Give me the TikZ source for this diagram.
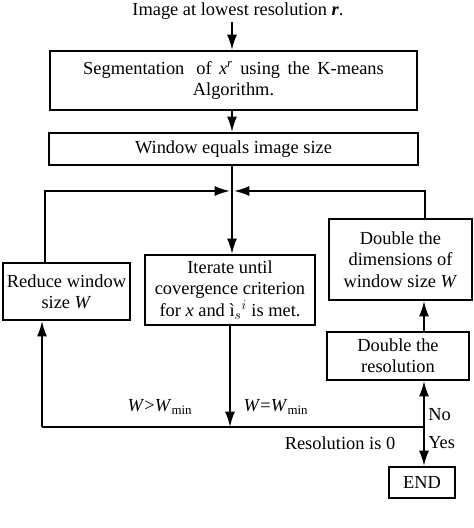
\documentclass[tikz,border=0pt]{standalone}
\usepackage{fontspec}
\setmainfont{Liberation Serif}
\usetikzlibrary{arrows.meta}
\begin{document}
\begin{tikzpicture}[x=0.75pt,y=-0.75pt,
  every node/.style={font=\fontsize{13.8}{16}\selectfont},
  box/.style={draw,line width=1.6pt,inner sep=0pt,align=center},
  lbl/.style={inner sep=0pt},
  arr/.style={line width=1.3pt,-{Latex[length=11.5pt,width=7.5pt]}},
  ln/.style={line width=1.3pt}]
\useasboundingbox (0,0) rectangle (474,528);
\node[lbl] (title) at (238,11) {Image at lowest resolution \textbf{\textit{r}}.};
\node[box,minimum width=275.25pt,minimum height=44.25pt] (seg) at (233.5,80.5)
  {{\spaceskip=0.4em Segmentation\hspace{0.25em} of \textit{x}\textsuperscript{\textit{r}} using the K-means}\\Algorithm.};
\node[box,minimum width=276.75pt,minimum height=24pt] (win) at (233.5,149) {Window equals image size};
\node[box,minimum width=95.25pt,minimum height=42.75pt] (red) at (66.5,291.5) {Reduce window\\size \textit{W}};
\node[box,minimum width=127.5pt,minimum height=52.5pt] (iter) at (230,290)
  {Iterate until\\covergence criterion\\for \textit{x} and ì$_{s}{}^{i}$ is met.};
\node[box,minimum width=107.25pt,minimum height=60.75pt] (ddim) at (400.5,259.5) {Double the\\dimensions of\\window size \textit{W}};
\node[box,minimum width=106.5pt,minimum height=36pt] (dres) at (398,356) {Double the\\resolution};
\node[box,minimum width=49.5pt,minimum height=23.25pt] (end) at (422,482.5) {END};
% labels
\node[lbl] (lgt) at (160,407) {\textit{W}>\textit{W}\textsubscript{min}};
\node[lbl] (leq) at (276,407) {\textit{W}=\textit{W}\textsubscript{min}};
\node[lbl,anchor=west] (lno) at (428,415) {No};
\node[lbl,anchor=west] (lyes) at (428,443) {Yes};
\node[lbl] (lres) at (340,443) {Resolution is 0};
% coordinates
\coordinate (ta) at (232,22);
\coordinate (junc) at (232,191);
\coordinate (jl) at (45,191);
\coordinate (jl2) at (230,191);
\coordinate (jr) at (425,191);
\coordinate (jr2) at (234,191);
\coordinate (dec) at (424,427);
\coordinate (bl) at (42,427);
% connectors
\draw[arr] (ta) -- (ta |- seg.north);
\draw[arr] (seg.south -| ta) -- (ta |- win.north);
\draw[arr] (win.south -| junc) -- (junc |- iter.north);
\draw[arr] (red.north -| jl) -- (jl) -- (jl2);
\draw[arr] (ddim.north -| jr) -- (jr) -- (jr2);
\draw[arr] (iter.south) -- (iter.south |- dec);
\draw[ln] (dec) -- (bl);
\draw[arr] (bl) -- (red.south -| bl);
\draw[arr] (dec) -- (dres.south -| dec);
\draw[arr] (dres.north -| dec) -- (ddim.south -| dec);
\draw[arr] (dec) -- (end.north -| dec);
\end{tikzpicture}
\end{document}
